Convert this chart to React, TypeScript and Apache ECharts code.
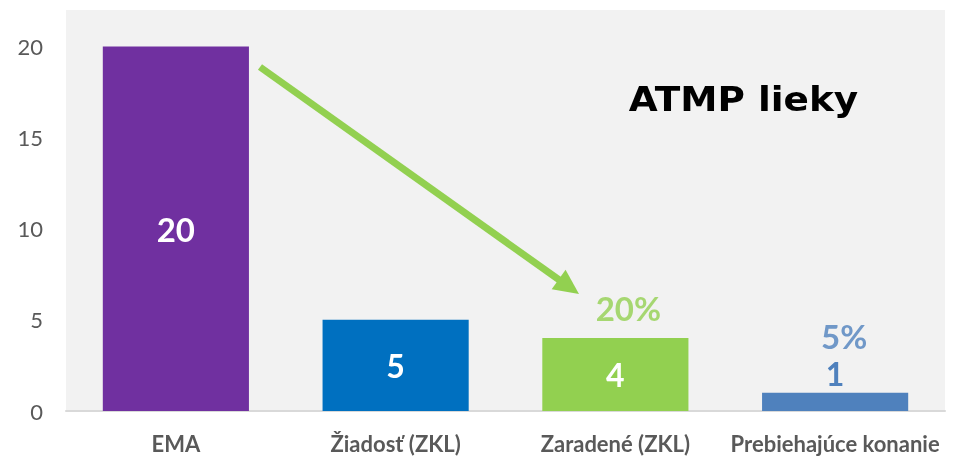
import React, { useEffect, useRef } from "react";
import * as echarts from "echarts";

const categories = ["EMA", "Žiadosť (ZKL)", "Zaradené (ZKL)", "Prebiehajúce konanie"];
const counts = [20, 5, 4, 1];
const shareLabels = ["", "", "20%", "5%"];
const barColors = ["#7030A0", "#0070C0", "#92D050", "#4F81BD"];
const yTickLabels = ["0", "5", "10", "15", "20"];
const chartTitle = "ATMP lieky";

export default function App() {
  const ref = useRef<HTMLDivElement>(null);

  useEffect(() => {
    if (!ref.current) return;
    const chart = echarts.init(ref.current, null, { renderer: "svg" });

    const barData = counts.map((v, i) => {
      const item: any = { value: v, itemStyle: { color: barColors[i] } };
      if (i === 3) {
        item.label = { position: "top", color: "#4F81BD", distance: 3 };
      }
      if (i === 0) item.label = { fontSize: 33 };
      return item;
    });

    const pctData = counts.map((v, i) => {
      if (!shareLabels[i]) return "-";
      const isGreen = i === 2;
      return {
        value: v,
        label: {
          show: true,
          position: "top",
          formatter: shareLabels[i],
          color: isGreen ? "#92D050" : "#4F81BD",
          offset: isGreen ? [13, -9] : [9, -35],
        },
      };
    });

    // arrow geometry (annotation)
    const sx = 260, sy = 67, tx = 579, ty = 294;
    const dx = tx - sx, dy = ty - sy;
    const len = Math.sqrt(dx * dx + dy * dy);
    const ux = dx / len, uy = dy / len;
    const headLen = 25, headHalf = 12;
    const bx = tx - headLen * ux, by = ty - headLen * uy;
    const nx = -uy, ny = ux;

    chart.setOption({
      animation: false,
      grid: {
        left: 66,
        right: 10,
        top: 10,
        bottom: 45,
        show: true,
        backgroundColor: "#F2F2F2",
        borderWidth: 0,
      },
      xAxis: {
        type: "category",
        data: categories,
        axisTick: { show: false },
        axisLine: { show: true, lineStyle: { color: "#D9D9D9", width: 2 } },
        axisLabel: {
          interval: 0,
          margin: 22,
          color: "#595959",
          fontFamily: "Lato",
          fontWeight: "bold",
          fontSize: 22,
          lineHeight: 20,
        },
      },
      yAxis: {
        type: "value",
        min: 0,
        max: 22,
        interval: 5,
        splitLine: { show: false },
        axisLine: { show: false },
        axisTick: { show: false },
        axisLabel: {
          showMaxLabel: false,
          margin: 23,
          color: "#595959",
          fontFamily: "Lato",
          fontSize: 22,
          formatter: (val: number) => {
            const s = String(val);
            return yTickLabels.indexOf(s) >= 0 ? s : "";
          },
        },
      },
      series: [
        {
          type: "bar",
          data: barData,
          barWidth: "66.5%",
          label: {
            show: true,
            position: "inside",
            color: "#FFFFFF",
            fontFamily: "Lato",
            fontWeight: "bold",
            fontSize: 32,
          },
        },
        {
          type: "scatter",
          data: pctData,
          symbolSize: 0,
          silent: true,
          z: 5,
          label: {
            show: true,
            fontFamily: "Lato",
            fontWeight: "bold",
            fontSize: 33,
          },
        },
      ],
      graphic: [
        {
          type: "line",
          z: 10,
          shape: { x1: sx, y1: sy, x2: bx + 2 * ux, y2: by + 2 * uy },
          style: { stroke: "#92D050", lineWidth: 7 },
        },
        {
          type: "polygon",
          z: 10,
          shape: {
            points: [
              [tx, ty],
              [bx + headHalf * nx, by + headHalf * ny],
              [bx - headHalf * nx, by - headHalf * ny],
            ],
          },
          style: { fill: "#92D050" },
        },
        {
          type: "text",
          z: 10,
          x: 743.5,
          y: 99,
          scaleX: 1.1,
          style: {
            text: chartTitle,
            fill: "#000000",
            font: "bold 34px 'DejaVu Sans'",
            textAlign: "center",
            textVerticalAlign: "middle",
            verticalAlign: "middle",
          },
        },
      ],
    });

    return () => chart.dispose();
  }, []);

  return (
    <div
      ref={ref}
      style={{ position: "fixed", left: 0, top: 0, width: 955, height: 456 }}
    />
  );
}
